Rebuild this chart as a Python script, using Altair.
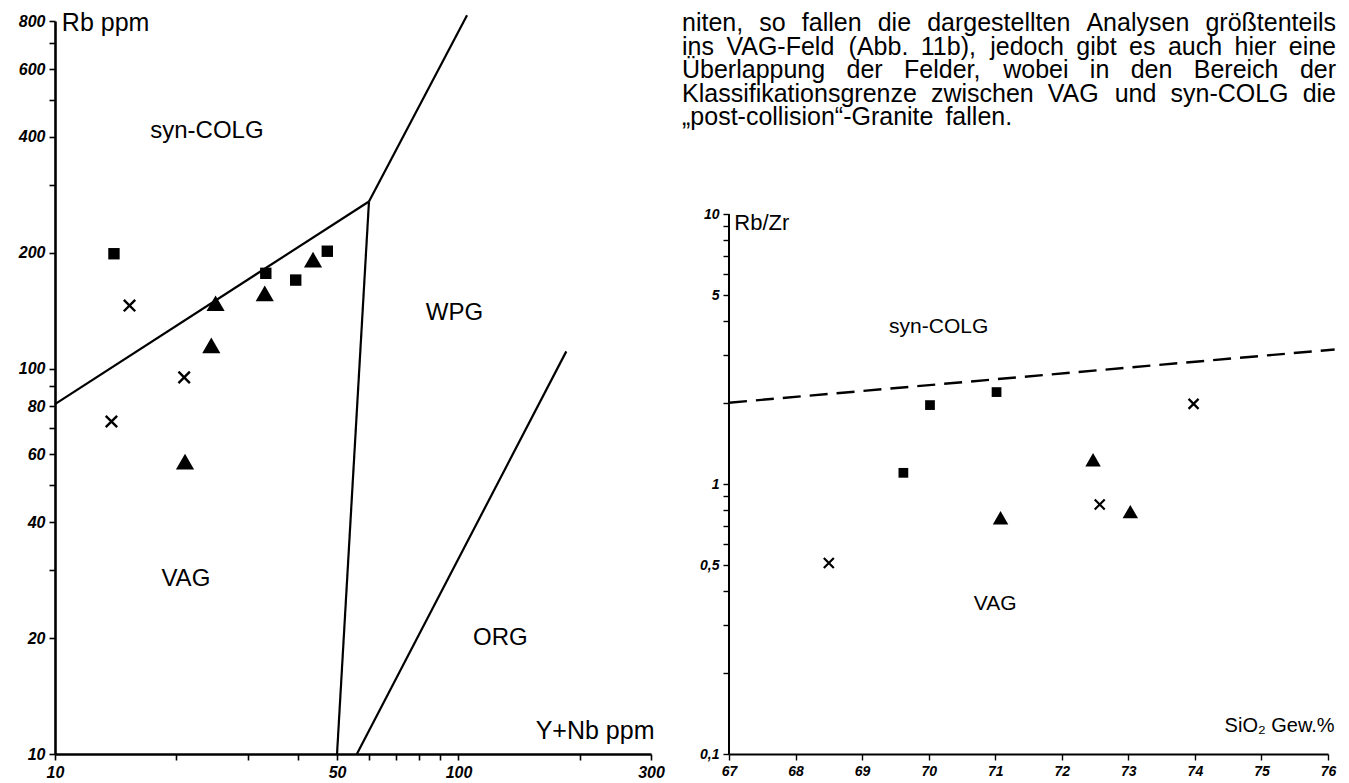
import math
import altair as alt
import pandas as pd

# ---------------- data ----------------
# Left panel: Rb (ppm) vs Y+Nb (ppm)
left_x = [14.0, 15.3, 25.0, 33.3, 33.1, 39.5, 43.6, 47.3, 24.4, 20.9, 13.8, 21.0]
left_y = [199, 146, 148, 177, 157, 170, 192, 202, 115, 95, 73, 57.4]
left_kind = ["square", "cross", "triangle", "square", "triangle", "square",
             "triangle", "square", "triangle", "cross", "cross", "triangle"]

# field boundaries (segments) of the left panel
seg_x1 = [10, 60, 60, 56]
seg_y1 = [81, 272, 272, 10]
seg_x2 = [60, 105, 50, 185]
seg_y2 = [272, 828, 10, 111]

left_lbl_text = ["syn-COLG", "WPG", "VAG", "ORG"]
left_lbl_x = [23.8, 97.7, 21.1, 127]
left_lbl_y = [415, 140, 28.5, 20]

# Right panel: Rb/Zr vs SiO2 (Gew.%)
right_x = [68.5, 69.62, 70.02, 71.02, 71.08, 72.47, 72.57, 73.03, 73.98]
right_y = [0.51, 1.10, 1.96, 2.19, 0.75, 1.23, 0.84, 0.79, 1.98]
right_kind = ["cross", "square", "square", "square", "triangle", "triangle",
              "cross", "triangle", "cross"]

dash_x1, dash_y1, dash_x2, dash_y2 = [67.0], [2.0], [76.1], [3.15]

right_lbl_text = ["syn-COLG", "VAG"]
right_lbl_x = [70.15, 71.0]
right_lbl_y = [3.81, 0.36]

left_xticks = [10, 20, 30, 40, 50, 60, 70, 80, 90, 100, 200, 300]
left_xlab = [10, 50, 100, 300]
left_yticks = [10, 20, 30, 40, 50, 60, 70, 80, 90, 100, 200, 300, 400, 500, 600, 700, 800]
left_ylab = [10, 20, 40, 60, 80, 100, 200, 400, 600, 800]
right_xticks = [67, 68, 69, 70, 71, 72, 73, 74, 75, 76]
right_yticks = [0.1, 0.2, 0.3, 0.4, 0.5, 0.6, 0.7, 0.8, 0.9, 1, 2, 3, 4, 5, 6, 7, 8, 9, 10]
right_ylab = {0.1: "0,1", 0.5: "0,5", 1: "1", 5: "5", 10: "10"}

para_lines = [
    "niten, so fallen die dargestellten Analysen größtenteils",
    "ins VAG-Feld (Abb. 11b), jedoch gibt es auch hier eine",
    "Überlappung der Felder, wobei in den Bereich der",
    "Klassifikationsgrenze zwischen VAG und syn-COLG die",
    "„post-collision“-Granite fallen.",
]

# ---------------- styling / layout ----------------
FONT = "Liberation Sans"
CROSS = "M-1,-1L1,1M-1,1L1,-1"
PLOT_H = 733
PLOT_W_L = 596
PLOT_W_R = 599
GAP = 78                              # gap between the two plot areas
RIGHT_TOP = 193                       # right panel's top edge below the shared top
RIGHT_H = PLOT_H - RIGHT_TOP

# ---------------- left panel ----------------
lx = alt.Scale(type="log", domain=[10, 300], nice=False)
ly = alt.Scale(type="log", domain=[10, 800], nice=False)

def lab_expr(vals):
    cond = " || ".join(f"datum.value == {v}" for v in vals)
    return f"({cond}) ? format(datum.value, 'd') : ''"

ax_common = dict(grid=False, domainColor="black", domainWidth=2.6, tickColor="black",
                 tickWidth=1.6, tickSize=6, labelFont=FONT, labelFontStyle="italic",
                 labelFontWeight="bold", labelColor="black", title=None)

left_x_axis = alt.Axis(values=left_xticks, labelExpr=lab_expr(left_xlab), labelFontSize=16,
                       labelPadding=4, labelFlush=False, **ax_common)
left_y_axis = alt.Axis(values=left_yticks, labelExpr=lab_expr(left_ylab), labelFontSize=16,
                       labelPadding=4, **ax_common)

pts_l = pd.DataFrame({"x": left_x, "y": left_y, "k": left_kind})
segs_l = pd.DataFrame({"x": seg_x1, "y": seg_y1, "x2": seg_x2, "y2": seg_y2})
lbls_l = pd.DataFrame({"t": left_lbl_text, "x": left_lbl_x, "y": left_lbl_y})

base_l = alt.Chart(pts_l)
seg_layer = alt.Chart(segs_l).mark_rule(color="black", strokeWidth=2.2, clip=False).encode(
    x=alt.X("x:Q", scale=lx, axis=left_x_axis),
    y=alt.Y("y:Q", scale=ly, axis=left_y_axis),
    x2="x2:Q", y2="y2:Q")
sq_l = base_l.transform_filter("datum.k == 'square'").mark_point(
    shape="square", filled=True, color="black", size=130, opacity=1).encode(
    x=alt.X("x:Q", scale=lx), y=alt.Y("y:Q", scale=ly))
tr_l = base_l.transform_filter("datum.k == 'triangle'").mark_point(
    shape="triangle-up", filled=True, color="black", size=330, opacity=1).encode(
    x=alt.X("x:Q", scale=lx), y=alt.Y("y:Q", scale=ly))
cr_l = base_l.transform_filter("datum.k == 'cross'").mark_point(
    shape=CROSS, filled=False, color="black", size=130, strokeWidth=2.4, opacity=1).encode(
    x=alt.X("x:Q", scale=lx), y=alt.Y("y:Q", scale=ly))
txt_l = alt.Chart(lbls_l).mark_text(font=FONT, fontSize=24, color="black").encode(
    x=alt.X("x:Q", scale=lx), y=alt.Y("y:Q", scale=ly), text="t:N")
title_l = alt.Chart(pd.DataFrame({"t": ["Rb ppm"], "x": [10.4], "y": [790]})).mark_text(
    font=FONT, fontSize=25, color="black", align="left").encode(
    x=alt.X("x:Q", scale=lx), y=alt.Y("y:Q", scale=ly), text="t:N")
xt_l = alt.Chart(pd.DataFrame({"t": ["Y+Nb ppm"], "x": [306], "y": [10.6]})).mark_text(
    font=FONT, fontSize=25, color="black", align="right", baseline="bottom").encode(
    x=alt.X("x:Q", scale=lx), y=alt.Y("y:Q", scale=ly), text="t:N")

# ---------------- paragraph (justified, word by word, placed beside the left plot) ----------------
W = {" ": 278, "%": 889, "(": 333, ")": 333, "+": 584, ",": 278, "-": 333, ".": 278,
     "/": 278, "A": 667, "B": 667, "C": 722, "D": 722, "E": 667, "F": 611, "G": 778,
     "H": 722, "I": 278, "K": 667, "L": 556, "M": 833, "N": 722, "O": 778, "P": 667,
     "R": 722, "S": 667, "T": 611, "U": 722, "V": 667, "W": 944, "Z": 611, "Ü": 722,
     "a": 556, "b": 556, "c": 500, "d": 556, "e": 556, "f": 278, "g": 556, "h": 556,
     "i": 222, "j": 222, "k": 500, "l": 222, "m": 833, "n": 556, "o": 556, "p": 556,
     "q": 556, "r": 333, "s": 500, "t": 278, "u": 556, "v": 500, "w": 722, "x": 500,
     "y": 500, "z": 500, "ß": 611, "ö": 556, "ü": 556, "„": 333, "“": 333}
PF = 25                              # paragraph font size
P_LEFT = PLOT_W_L + GAP - 47         # px from the left plot's left edge
P_WIDTH = 654
P_TOP = 2                            # px, centre of first line below the shared top
P_STEP = 23.5
LX_DEC = math.log10(300 / 10)
LY_DEC = math.log10(800 / 10)

def wwidth(w):
    return sum(W.get(c, 556) for c in w) * PF / 1000.0

rows = []
for i, line in enumerate(para_lines):
    words = line.split(" ")
    widths = [wwidth(w) for w in words]
    if i == len(para_lines) - 1:
        gap = 12
    else:
        gap = (P_WIDTH - sum(widths)) / max(len(words) - 1, 1)
    xpos = P_LEFT
    for w, wd in zip(words, widths):
        py = P_TOP + i * P_STEP
        rows.append({"t": w,
                     "x": 10 * 10 ** (xpos / PLOT_W_L * LX_DEC),
                     "y": 10 * 10 ** ((PLOT_H - py) / PLOT_H * LY_DEC)})
        xpos += wd + gap
para_df = pd.DataFrame(rows)
para = alt.Chart(para_df).mark_text(font=FONT, fontSize=PF, color="black", align="left",
                                    baseline="middle", clip=False).encode(
    x=alt.X("x:Q", scale=lx), y=alt.Y("y:Q", scale=ly), text="t:N")

left = alt.layer(seg_layer, sq_l, tr_l, cr_l, txt_l, title_l, xt_l, para).properties(
    width=PLOT_W_L, height=PLOT_H)

# ---------------- right panel ----------------
rx = alt.Scale(domain=[67, 76], nice=False, zero=False)
r_top_val = 10 ** (-1 + PLOT_H / (RIGHT_H / 2.0))
ry = alt.Scale(type="log", domain=[0.1, r_top_val], nice=False)

ry_expr = " : ".join(f"datum.value == {k} ? '{v}'" for k, v in right_ylab.items()) + " : ''"
ax_r = dict(ax_common)
ax_r.update(domainWidth=2.0, tickWidth=1.4)
right_x_axis = alt.Axis(values=right_xticks, format="d", labelFontSize=14, labelPadding=4,
                        labelFlush=False, **ax_r)
ax_ry = dict(ax_r)
ax_ry.update(domain=False)
right_y_axis = alt.Axis(values=right_yticks, labelExpr=ry_expr, labelFontSize=14,
                        labelPadding=4, **ax_ry)

pts_r = pd.DataFrame({"x": right_x, "y": right_y, "k": right_kind})
dash_df = pd.DataFrame({"x": dash_x1, "y": dash_y1, "x2": dash_x2, "y2": dash_y2})
lbls_r = pd.DataFrame({"t": right_lbl_text, "x": right_lbl_x, "y": right_lbl_y})
yaxis_df = pd.DataFrame({"x": [67], "y": [0.1], "y2": [10]})

dash_layer = alt.Chart(dash_df).mark_rule(color="black", strokeWidth=2.4, strokeDash=[18, 9],
                                           clip=False).encode(
    x=alt.X("x:Q", scale=rx, axis=right_x_axis),
    y=alt.Y("y:Q", scale=ry, axis=right_y_axis),
    x2="x2:Q", y2="y2:Q")
yline = alt.Chart(yaxis_df).mark_rule(color="black", strokeWidth=2.0).encode(
    x=alt.X("x:Q", scale=rx), y=alt.Y("y:Q", scale=ry), y2="y2:Q")
base_r = alt.Chart(pts_r)
sq_r = base_r.transform_filter("datum.k == 'square'").mark_point(
    shape="square", filled=True, color="black", size=95, opacity=1).encode(
    x=alt.X("x:Q", scale=rx), y=alt.Y("y:Q", scale=ry))
tr_r = base_r.transform_filter("datum.k == 'triangle'").mark_point(
    shape="triangle-up", filled=True, color="black", size=240, opacity=1).encode(
    x=alt.X("x:Q", scale=rx), y=alt.Y("y:Q", scale=ry))
cr_r = base_r.transform_filter("datum.k == 'cross'").mark_point(
    shape=CROSS, filled=False, color="black", size=100, strokeWidth=2.2, opacity=1).encode(
    x=alt.X("x:Q", scale=rx), y=alt.Y("y:Q", scale=ry))
txt_r = alt.Chart(lbls_r).mark_text(font=FONT, fontSize=21, color="black").encode(
    x=alt.X("x:Q", scale=rx), y=alt.Y("y:Q", scale=ry), text="t:N")
title_r = alt.Chart(pd.DataFrame({"t": ["Rb/Zr"], "x": [67.08], "y": [9.3]})).mark_text(
    font=FONT, fontSize=22, color="black", align="left").encode(
    x=alt.X("x:Q", scale=rx), y=alt.Y("y:Q", scale=ry), text="t:N")
xt_r = alt.Chart(pd.DataFrame({"t": ["SiO₂ Gew.%"], "x": [76.1], "y": [0.127]})).mark_text(
    font=FONT, fontSize=20, color="black", align="right").encode(
    x=alt.X("x:Q", scale=rx), y=alt.Y("y:Q", scale=ry), text="t:N")

right = alt.layer(dash_layer, yline, sq_r, tr_r, cr_r, txt_r, title_r, xt_r).properties(
    width=PLOT_W_R, height=PLOT_H)

chart = alt.hconcat(left, right, spacing=GAP, bounds="flush").properties(
    padding={"left": 10, "top": 2, "right": 0, "bottom": 0},
    background="white"
).configure_view(stroke=None, strokeWidth=0)

chart.save("out.html", embed_options={"renderer": "svg", "actions": False})
